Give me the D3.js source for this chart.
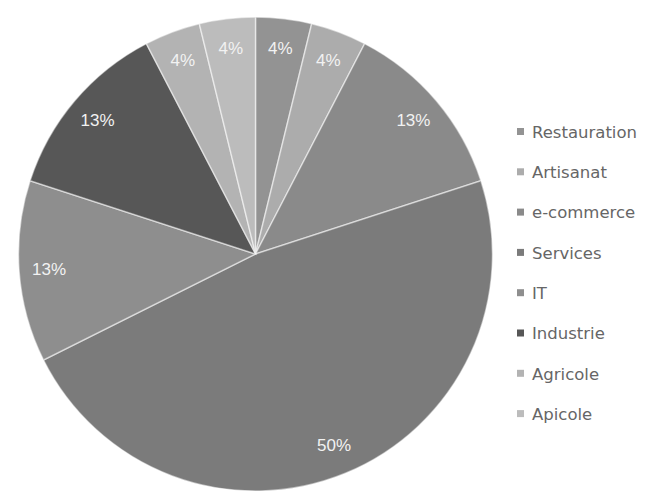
<!DOCTYPE html>
<html><head><meta charset="utf-8">
<script src="https://cdn.jsdelivr.net/npm/d3@7"></script>
<style>html,body{margin:0;padding:0;background:#fff;}</style>
</head><body>
<svg id="chart" width="653" height="492"></svg>
<script>
const categories = ["Restauration","Artisanat","e-commerce","Services","IT","Industrie","Agricole","Apicole"];
const values = [4,4,13,50,13,13,4,4];
const colors = ["#939393","#acacac","#8a8a8a","#7b7b7b","#8e8e8e","#575757","#b3b3b3","#bcbcbc"];

const svg = d3.select("#chart");
const cx = 255.5, cy = 254, R = 237;
const g = svg.append("g").attr("transform", `translate(${cx},${cy})`);
const pie = d3.pie().sort(null).value(d => d.v);
const data = pie(categories.map((c,i) => ({c, v: values[i], col: colors[i]})));
const arc = d3.arc().innerRadius(0).outerRadius(R);
const labelArc = d3.arc().innerRadius(207).outerRadius(207);

g.selectAll("path").data(data).join("path")
  .attr("d", arc).attr("fill", d => d.data.col)
  .attr("stroke", "#ffffff").attr("stroke-width", 1.5).attr("stroke-opacity", 0.5);

g.selectAll("text").data(data).join("text")
  .attr("transform", d => `translate(${labelArc.centroid(d)})`)
  .attr("text-anchor", "middle").attr("dy", "0.35em")
  .attr("font-family", "Liberation Sans, Arial, sans-serif").attr("font-size", 17)
  .attr("fill", "#f2f2f2")
  .text(d => d.data.v + "%");

const leg = svg.append("g").attr("transform", "translate(517,132)");
const items = leg.selectAll("g").data(categories).join("g")
  .attr("transform", (d,i) => `translate(0,${i*40.3})`);
items.append("rect").attr("x", 0).attr("y", -4).attr("width", 7).attr("height", 7)
  .attr("fill", (d,i) => colors[i]);
items.append("text").attr("x", 15).attr("dy", "0.35em")
  .attr("font-family", "DejaVu Sans, sans-serif").attr("font-size", 16.5)
  .attr("fill", "#666").text(d => d);
</script>
</body></html>
